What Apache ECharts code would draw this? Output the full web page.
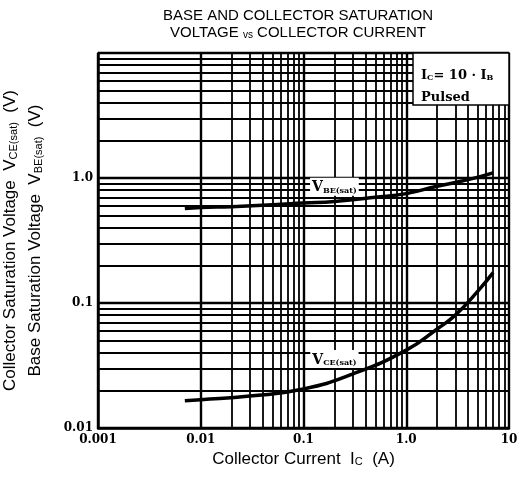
<!DOCTYPE html>
<html><head><meta charset="utf-8">
<script src="https://cdn.jsdelivr.net/npm/echarts@6/dist/echarts.min.js"></script>
<style>html,body{margin:0;padding:0;background:#fff}#c{width:521px;height:487px}</style>
</head><body><div id="c"></div>
<script>
const xTickValues = [0.001, 0.01, 0.1, 1, 10];
const xTickLabels = ['0.001', '0.01', '0.1', '1.0', '10'];
const yTickValues = [0.01, 0.1, 1, 10];
const yTickLabels = ['0.01', '0.1', '1.0', ''];
const minorMultipliers = [2, 3, 4, 5, 6, 7, 8, 9];
const xDecades = [0.001, 0.01, 0.1, 1];
const yDecades = [0.01, 0.1, 1];

const icVbe = [0.007, 0.01, 0.02, 0.05, 0.1, 0.2, 0.5, 1, 2, 4, 7];
const vbeSat = [0.57, 0.58, 0.59, 0.61, 0.63, 0.65, 0.70, 0.75, 0.86, 0.97, 1.1];
const icVce = [0.007, 0.01, 0.03, 0.1, 0.3, 1, 2, 3, 5, 7];
const vceSat = [0.0165, 0.0168, 0.018, 0.0205, 0.027, 0.042, 0.062, 0.08, 0.125, 0.175];

const vbeLabelAt = [0.2, 0.85];
const vceLabelAt = [0.2, 0.0356];

const serif = 'DejaVu Serif';
const sans = 'Liberation Sans';

function fmt(values, labels) {
  return function (v) {
    for (let i = 0; i < values.length; i++) {
      if (Math.abs(Math.log10(v) - Math.log10(values[i])) < 1e-6) return labels[i];
    }
    return '';
  };
}

const minorLines = [];
xDecades.forEach(d => minorMultipliers.forEach(m => minorLines.push({ xAxis: +(d * m).toPrecision(3) })));
yDecades.forEach(d => minorMultipliers.forEach(m => minorLines.push({ yAxis: +(d * m).toPrecision(3) })));

const chart = echarts.init(document.getElementById('c'), null, { renderer: 'canvas' });
const labelRich = {
  v: { fontFamily: serif, fontWeight: 'bold', fontSize: 14, color: '#000', verticalAlign: 'bottom', lineHeight: 16 },
  s: { fontFamily: serif, fontWeight: 'bold', fontSize: 8, color: '#000', verticalAlign: 'bottom', lineHeight: 11 }
};

chart.setOption({
  animation: false,
  backgroundColor: '#fff',
  grid: { left: 98, right: 12, top: 53, bottom: 59, containLabel: false, outerBoundsMode: 'none' },
  xAxis: {
    type: 'log', logBase: 10, min: 0.001, max: 10,
    axisLine: { show: true, lineStyle: { color: '#000', width: 2.5 } },
    axisTick: { show: false },
    splitLine: { show: true, lineStyle: { color: '#000', width: 2.4 } },
    axisLabel: { formatter: fmt(xTickValues, xTickLabels), fontFamily: serif, fontWeight: 'bold', fontSize: 12, color: '#000', margin: 6 },
    name: 'Collector Current  I{s|C}  (A)',
    nameLocation: 'middle', nameGap: 16,
    nameTextStyle: {
      fontFamily: sans, fontSize: 17, color: '#000', verticalAlign: 'top',
      rich: { s: { fontFamily: sans, fontSize: 11, color: '#000', verticalAlign: 'bottom', lineHeight: 14 } }
    }
  },
  yAxis: {
    type: 'log', logBase: 10, min: 0.01, max: 10,
    axisLine: { show: true, lineStyle: { color: '#000', width: 2.5 } },
    axisTick: { show: false },
    splitLine: { show: true, lineStyle: { color: '#000', width: 2.4 } },
    axisLabel: { formatter: fmt(yTickValues, yTickLabels), fontFamily: serif, fontWeight: 'bold', fontSize: 12, color: '#000', margin: 5 },
    name: '{n|Collector Saturation Voltage  V}{s|CE(sat)}{n|  (V)}\n{n|Base Saturation Voltage  V}{s|BE(sat)}{n|  (V)}',
    nameLocation: 'middle', nameRotate: 90, nameGap: 54,
    nameTextStyle: {
      rich: {
        n: { fontFamily: sans, fontSize: 17, color: '#000', verticalAlign: 'bottom', lineHeight: 25 },
        s: { fontFamily: sans, fontSize: 11, color: '#000', verticalAlign: 'bottom', lineHeight: 20 }
      }
    }
  },
  graphic: [
    {
      type: 'text', left: 300 - 137, top: 8, z: 20,
      style: {
        text: '{t|BASE AND COLLECTOR SATURATION}\n{t|VOLTAGE }{v|vs}{t| COLLECTOR CURRENT}',
        fill: '#000', textAlign: 'center',
        rich: {
          t: { fontFamily: sans, fontSize: 15, fill: '#000', lineHeight: 17, verticalAlign: 'bottom' },
          v: { fontFamily: sans, fontSize: 10, fill: '#000', lineHeight: 14, verticalAlign: 'bottom' }
        }
      }
    },
    {
      type: 'rect', z: 20,
      shape: { x: 413, y: 53, width: 96, height: 52 },
      style: { fill: '#fff', stroke: '#000', lineWidth: 1.5 }
    },
    {
      type: 'text', x: 421, y: 60, z: 21,
      style: {
        text: '{a|I}{b|C}{a|= 10 · I}{b|B}\n{a|Pulsed}',
        fill: '#000',
        rich: {
          a: { fontFamily: serif, fontWeight: 'bold', fontSize: 13, fill: '#000', verticalAlign: 'bottom', lineHeight: 22 },
          b: { fontFamily: serif, fontWeight: 'bold', fontSize: 8, fill: '#000', verticalAlign: 'bottom', lineHeight: 17 }
        }
      }
    }
  ],
  series: [
    {
      name: 'grid', type: 'line', data: [], silent: true, z: 1,
      markLine: {
        silent: true, symbol: ['none', 'none'], animation: false,
        label: { show: false },
        lineStyle: { color: '#000', width: 1.8, type: 'solid' },
        emphasis: { disabled: true },
        data: minorLines
      }
    },
    {
      name: 'VBE(sat)', type: 'line', smooth: true, showSymbol: false, z: 5,
      lineStyle: { color: '#000', width: 3.5 },
      data: icVbe.map((x, i) => [x, vbeSat[i]]),
      markPoint: {
        symbol: 'rect', symbolSize: 1, itemStyle: { color: 'rgba(0,0,0,0)' },
        label: {
          show: true, position: 'inside', formatter: '{v|V}{s|BE(sat)}',
          backgroundColor: '#fff', padding: [1, 2, 1, 2], rich: labelRich
        },
        data: [{ coord: vbeLabelAt }]
      }
    },
    {
      name: 'VCE(sat)', type: 'line', smooth: true, showSymbol: false, z: 5,
      lineStyle: { color: '#000', width: 3.5 },
      data: icVce.map((x, i) => [x, vceSat[i]]),
      markPoint: {
        symbol: 'rect', symbolSize: 1, itemStyle: { color: 'rgba(0,0,0,0)' },
        label: {
          show: true, position: 'inside', formatter: '{v|V}{s|CE(sat)}',
          backgroundColor: '#fff', padding: [1, 2, 1, 2], rich: labelRich
        },
        data: [{ coord: vceLabelAt }]
      }
    }
  ]
});
</script></body></html>
